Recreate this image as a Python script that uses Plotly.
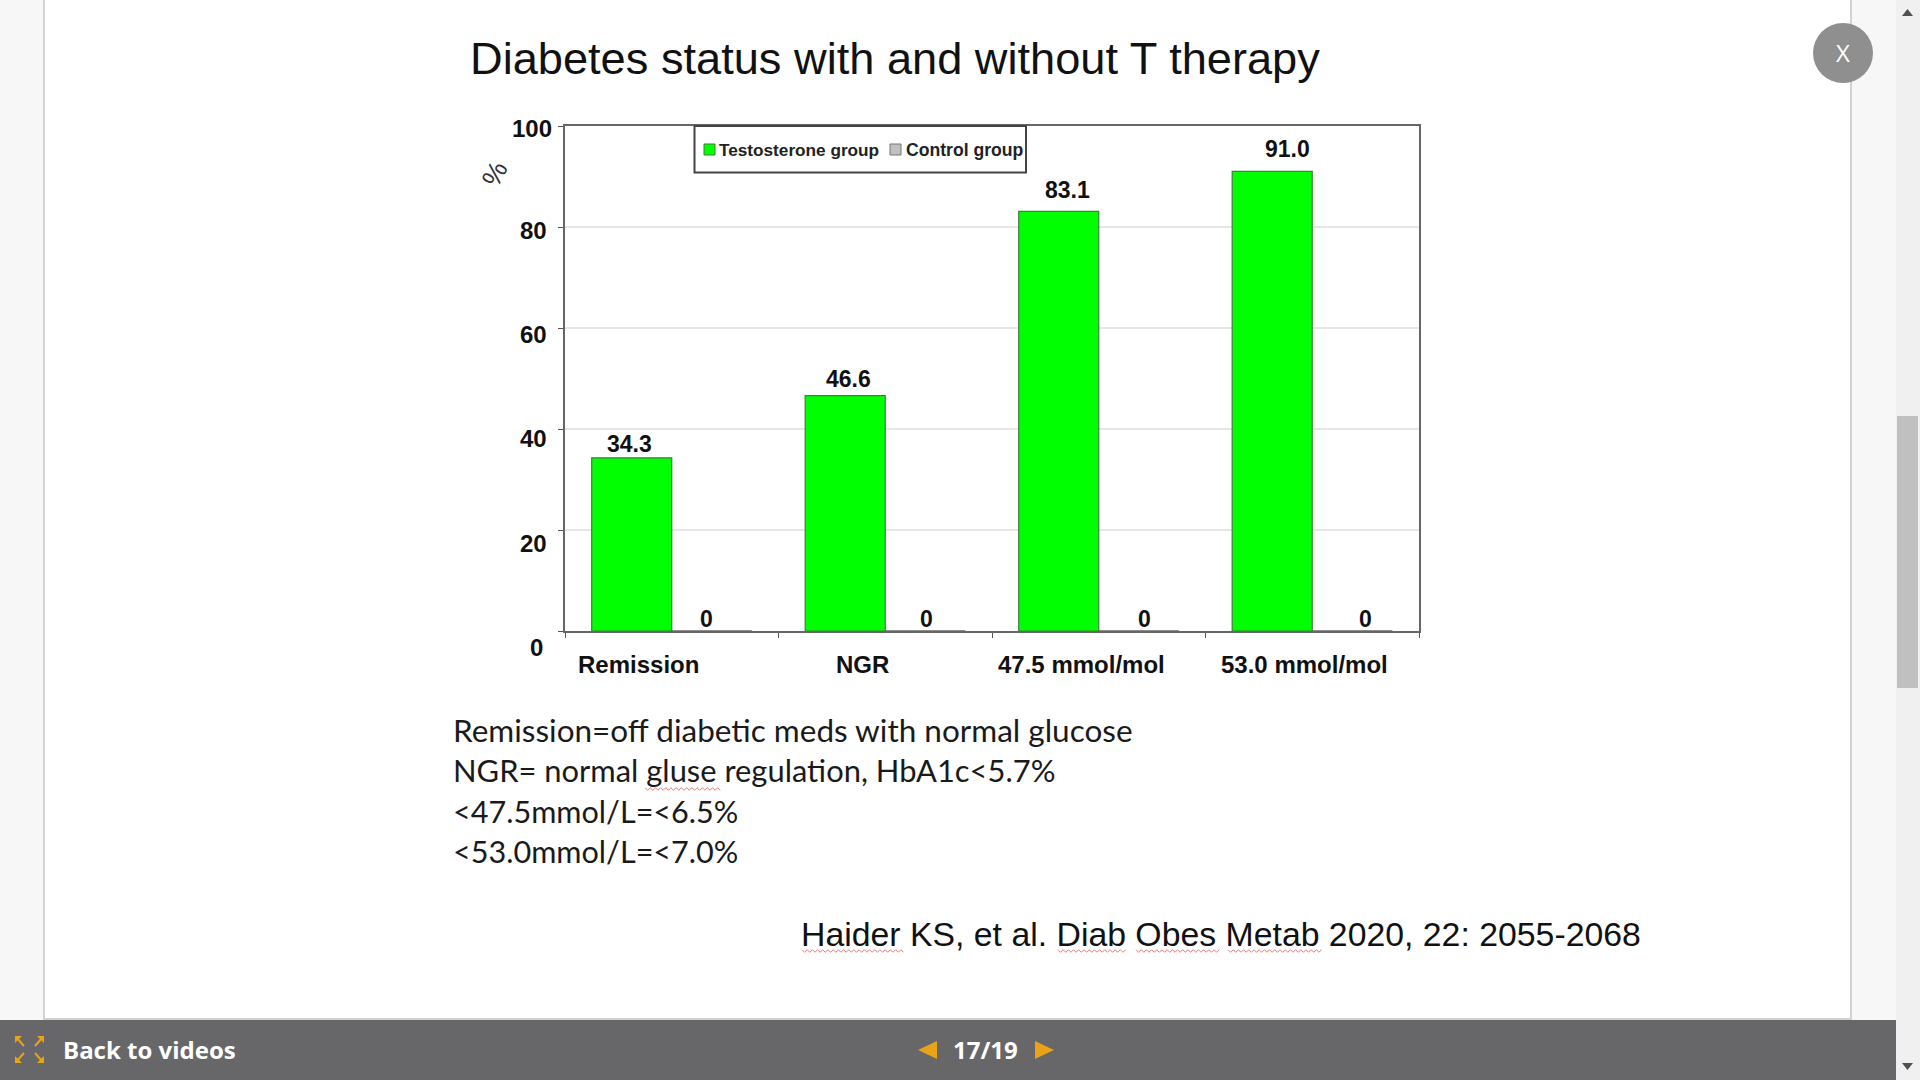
import plotly.graph_objects as go

# ---- data ----
categories = ["Remission", "NGR", "47.5 mmol/mol", "53.0 mmol/mol"]
testosterone = [34.3, 46.6, 83.1, 91.0]
control = [0, 0, 0, 0]
testosterone_labels = ["34.3", "46.6", "83.1", "91.0"]
y_ticks = [0, 20, 40, 60, 80, 100]
notes = ["Remission=off diabetic meds with normal glucose",
         "NGR= normal gluse regulation, HbA1c<5.7%",
         "<47.5mmol/L=<6.5%",
         "<53.0mmol/L=<7.0%"]
TITLE = "Diabetes status with and without T therapy"
CITE = "Haider KS, et al. Diab Obes Metab 2020, 22: 2055-2068"

W, H = 1920, 1080
ARIAL = "Liberation Sans"
BODY = "Lato"
UI = "Open Sans"
px = lambda x: x / W
py = lambda y: 1 - y / H
L, R, T, B = 565, 1419, 126, 631


def rect(x0, y0, x1, y1, fill, line=None, lw=0, layer="below"):
    return dict(type="rect", xref="paper", yref="paper", x0=px(x0), x1=px(x1), y0=py(y0), y1=py(y1),
                fillcolor=fill, line=dict(color=line or fill, width=lw), layer=layer)


def poly(points, fill="rgba(0,0,0,0)", line=None, lw=0, close=True, layer="above"):
    d = "M" + " L".join(f"{px(a):.5f},{py(b):.5f}" for a, b in points) + (" Z" if close else "")
    return dict(type="path", xref="paper", yref="paper", path=d, fillcolor=fill,
                line=dict(color=line or "rgba(0,0,0,0)", width=lw), layer=layer)


def squiggle(x0, x1, y):
    pts, x, up = [], x0, True
    while x <= x1:
        pts.append((x, y - 1.3 if up else y + 1.3))
        x += 2.6
        up = not up
    return poly(pts, line="#e87a7a", lw=1, close=False)


def text(x, y, s, size, color="#111", font=ARIAL, anchor="left", angle=0, bold=False):
    return dict(xref="paper", yref="paper", x=px(x), y=py(y), text=f"<b>{s}</b>" if bold else s,
                showarrow=False, xanchor=anchor, yanchor="middle", textangle=angle,
                font=dict(family=font, size=size, color=color))


fig = go.Figure()
fig.add_bar(name="Testosterone group", x=categories, y=testosterone,
            marker=dict(color="#00ff00", line=dict(color="#3f7f3f", width=1.2)))
fig.add_bar(name="Control group", x=categories, y=control,
            marker=dict(color="#c0c0c0", line=dict(color="#666", width=1)))

shapes = [
    rect(44, -2, 1851, 1019, "#ffffff", "#d2d2d2", 2),
    rect(0, 1020, 1896, 1082, "#67676a"),
    rect(1896, -2, 1922, 1082, "#f0f0f0", layer="above"),
    rect(1897, 416, 1918, 688, "#c0c0c0", layer="above"),
    poly([(1902, 16), (1913, 16), (1907.5, 9)], fill="#505050"),
    poly([(1902, 1063), (1913, 1063), (1907.5, 1070)], fill="#505050"),
    dict(type="circle", xref="paper", yref="paper", x0=px(1813), x1=px(1873), y0=py(83), y1=py(23),
         fillcolor="#8f8f8f", line=dict(width=0), layer="above"),
    # legend box and swatches
    rect(694.5, 126, 1026, 172.5, "#ffffff", "#444", 2, layer="above"),
    rect(704, 144, 715, 155, "#00ff00", "#3f7f3f", 1, layer="above"),
    rect(890, 144, 901, 155, "#c0c0c0", "#777", 1, layer="above"),
    # footer arrows
    poly([(918, 1050), (937, 1041), (937, 1059)], fill="#e8a317"),
    poly([(1054, 1050), (1035, 1041), (1035, 1059)], fill="#e8a317"),
    # spell-check underlines
    squiggle(645, 722, 789), squiggle(802, 906, 951), squiggle(1058, 1127, 951),
    squiggle(1136, 1221, 951), squiggle(1228, 1324, 951),
]
# expand icon
for cx, cy, sx, sy in [(15, 1036, 1, 1), (44, 1036, -1, 1), (15, 1063, 1, -1), (44, 1063, -1, -1)]:
    shapes.append(poly([(cx, cy), (cx + 7 * sx, cy), (cx, cy + 7 * sy)], fill="#e8a317"))
    shapes.append(poly([(cx + 2 * sx, cy + 2 * sy), (cx + 9 * sx, cy + 10 * sy)], line="#e8a317", lw=2, close=False))

ann = [
    text(468, 59, TITLE, 45.2),
    text(495, 174, "%", 27, angle=-62, color="#333", anchor="center"),
    text(717, 150, "Testosterone group", 17.2, bold=True, color="#222"),
    text(904, 150, "Control group", 17.6, bold=True, color="#222"),
    text(799, 934, CITE, 33.8),
    text(61, 1049, "Back to videos", 24, color="#fff", font=UI, bold=True),
    text(985, 1049, "17/19", 24, color="#fff", font=UI, anchor="center", bold=True),
    text(1843, 53, "X", 24, color="#fff", font=UI, anchor="center"),
]
note_sizes = [31.5, 30.9, 30.6, 30.6]
for i, (line, size) in enumerate(zip(notes, note_sizes)):
    ann.append(text(451, 730 + i * 40.5, line, size, font=BODY, color="#1a1a1a"))

# y tick labels sit a little below their gridlines in the original slide
tick_shift = [16.7, 13.6, 9.4, 6, 3, 2.6]
tick_right = [545, 549, 549, 549, 549, 554]
for v, s, r in zip(y_ticks, tick_shift, tick_right):
    ann.append(dict(xref="paper", yref="y", x=px(r), y=v, yshift=-s, text=f"<b>{v}</b>", showarrow=False,
                    xanchor="right", yanchor="middle", font=dict(family=ARIAL, size=24, color="#111")))
# category labels
cat_shift = [-33, -23, -17, -8]
for c, s in zip(categories, cat_shift):
    ann.append(dict(xref="x", yref="paper", x=c, y=py(664), xshift=s, text=f"<b>{c}</b>", showarrow=False,
                    xanchor="center", yanchor="middle", font=dict(family=ARIAL, size=24, color="#111")))
# value labels
val_shift = [-42, -37, -31, -25]
val_lift = [-1, 2, 6, 7]
for c, v, t, s, u in zip(categories, testosterone, testosterone_labels, val_shift, val_lift):
    ann.append(dict(xref="x", yref="y", x=c, y=v, xshift=s, yshift=u, text=f"<b>{t}</b>", showarrow=False,
                    xanchor="center", yanchor="bottom", font=dict(family=ARIAL, size=23, color="#111")))
zero_shift = [35, 41, 46, 53]
for c, v, s in zip(categories, control, zero_shift):
    ann.append(dict(xref="x", yref="y", x=c, y=v, xshift=s, yshift=-3, text=f"<b>{v}</b>", showarrow=False,
                    xanchor="center", yanchor="bottom", font=dict(family=ARIAL, size=23, color="#111")))

fig.update_layout(
    width=W, height=H, margin=dict(l=0, r=0, t=0, b=0), autosize=False,
    paper_bgcolor="#f7f7f7", plot_bgcolor="#ffffff",
    barmode="group", bargap=0.25, bargroupgap=0, showlegend=False,
    shapes=shapes, annotations=ann,
    xaxis=dict(domain=[px(L), px(R)], type="category", tickson="boundaries", ticks="outside", ticklen=5,
               tickcolor="#555", showticklabels=False, showline=True, linecolor="#666", linewidth=2,
               mirror=True, showgrid=False, zeroline=False, fixedrange=True),
    yaxis=dict(domain=[py(B), py(T)], range=[0, 100], tickvals=y_ticks, ticks="outside", ticklen=5,
               tickcolor="#555", showticklabels=False, showline=True, linecolor="#666", linewidth=2,
               mirror=True, showgrid=True, gridcolor="#e6e6e6", gridwidth=2, zeroline=False, fixedrange=True),
)

fig.write_html("out.html", config=dict(displayModeBar=False),
               post_script="document.body.style.margin='0';document.documentElement.style.overflow='hidden';")
